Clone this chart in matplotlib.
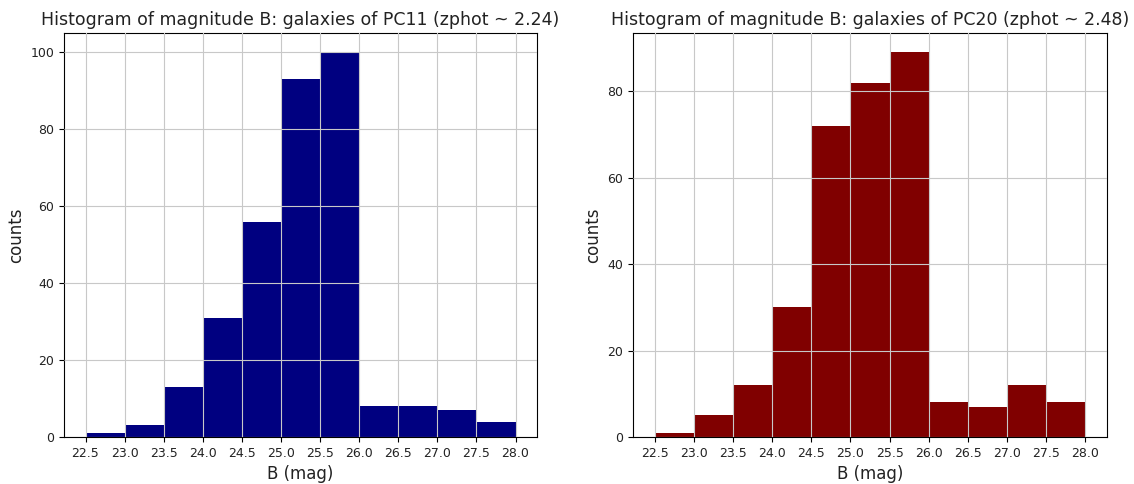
import matplotlib
matplotlib.use("Agg")
import matplotlib.pyplot as plt
import numpy as np

bin_edges = [22.5, 23.0, 23.5, 24.0, 24.5, 25.0, 25.5, 26.0, 26.5, 27.0, 27.5, 28.0]
counts_pc11 = [1, 3, 13, 31, 56, 93, 100, 8, 8, 7, 4]
counts_pc20 = [1, 5, 12, 30, 72, 82, 89, 8, 7, 12, 8]
titles = ["Histogram of magnitude B: galaxies of PC11 (zphot ~ 2.24)",
          "Histogram of magnitude B: galaxies of PC20 (zphot ~ 2.48)"]
colors = ["#000080", "#800000"]

fig = plt.figure(figsize=(11.34, 4.84), dpi=100)
ax1 = fig.add_axes([64/1134, 1-437/484, 473/1134, 404/484])
ax2 = fig.add_axes([633/1134, 1-437/484, 474/1134, 404/484])

edges = np.array(bin_edges)
for ax, counts, title, color in zip([ax1, ax2], [counts_pc11, counts_pc20], titles, colors):
    centers = (edges[:-1] + edges[1:]) / 2
    ax.hist(centers, bins=edges, weights=counts, color=color)
    ax.set_axisbelow(False)
    ax.grid(True, color="#c8c8c8", linewidth=0.8)
    ax.set_xticks(edges)
    ax.set_xticklabels([f"{e:.1f}" for e in edges])
    ax.tick_params(labelsize=9, labelcolor="#222222")
    ax.set_xlabel("B (mag)", fontsize=12, color="#222222")
    ax.set_ylabel("counts", fontsize=12, color="#222222")
    ax.set_title(title, fontsize=12.5, color="#222222")

fig.savefig("out.png", dpi=100)
